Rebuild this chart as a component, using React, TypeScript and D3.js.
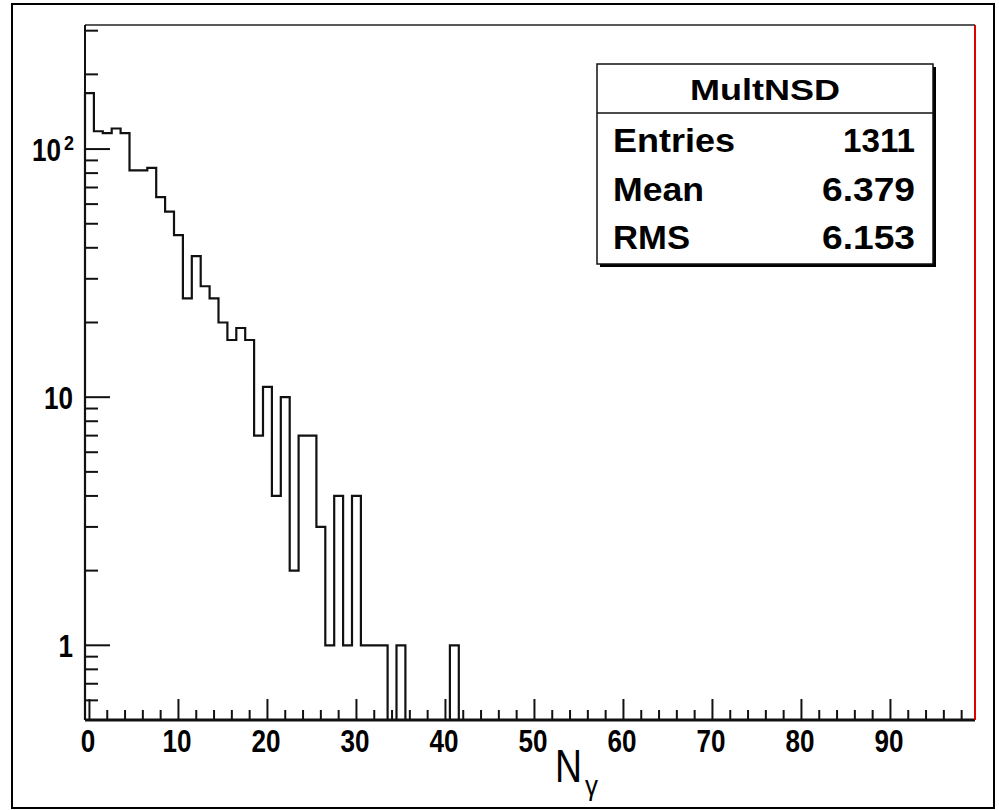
import React from "react";
import * as d3 from "d3";

// Histogram "MultNSD": photon multiplicity, one bin per integer N (bins 0..41 listed, higher bins empty)
const counts: number[] = [
  168, 118, 116, 121, 116, 82, 82, 84, 64, 56,
  45, 25, 37, 28, 25, 20, 17, 19, 17, 7,
  11, 4, 10, 2, 7, 7, 3, 1, 4, 1,
  4, 1, 1, 1, 0, 1, 0, 0, 0, 0,
  0, 1,
];
const nBins = 100;
const xMajorTicks: number[] = [0, 10, 20, 30, 40, 50, 60, 70, 80, 90];
const yMajorTicks: number[] = [1, 10, 100];
const yMajorLabels: string[] = ["1", "10", "10"];
const yMajorSup: string[] = ["", "", "2"];
const statsTitle = "MultNSD";
const statsNames: string[] = ["Entries", "Mean", "RMS"];
const statsValues: string[] = ["1311", "6.379", "6.153"];

const W = 999;
const H = 810;
const frame = { left: 85, right: 975, top: 25, bottom: 720 };
const yMin = 0.5;
const yMax = Math.pow(10, 2.5);

const FONT = "'Liberation Sans', Arial, Helvetica, sans-serif";

export default function App() {
  const x = d3.scaleLinear().domain([-0.5, nBins - 0.5]).range([frame.left, frame.right]);
  const y = d3.scaleLog().domain([yMin, yMax]).range([frame.bottom, frame.top]);

  // step outline of the histogram; empty bins sit on the lower edge of the log axis
  const pts: [number, number][] = [[x(-0.5), y(yMin)]];
  counts.forEach((c, i) => {
    const v = c > 0 ? c : yMin;
    pts.push([x(i - 0.5), y(v)]);
    pts.push([x(i + 0.5), y(v)]);
  });
  pts.push([x(counts.length - 0.5), y(yMin)]);
  pts.push([x(nBins - 0.5), y(yMin)]);
  const path = d3.line()(pts) || "";

  const xMinor = x.ticks(50).filter((t) => !xMajorTicks.includes(t));
  const yMinor = y
    .ticks()
    .filter((t) => t >= yMin && t <= yMax && !yMajorTicks.some((m) => Math.abs(m - t) < 1e-9));

  const digitW = 14.5;
  const box = { left: 597, right: 933, top: 64, bottom: 264, divider: 113 };
  const rowY: number[] = [152, 201, 249];

  return (
    <svg
      width={W}
      height={H}
      style={{ position: "absolute", left: 0, top: 0, background: "#fff" }}
      fontFamily={FONT}
    >
      <rect x={0} y={0} width={W} height={H} fill="#fff" />
      {/* canvas border */}
      <rect x={12} y={4} width={982} height={804} fill="none" stroke="#000" strokeWidth={2} />

      {/* frame top edge */}
      <line x1={frame.left} x2={frame.right} y1={frame.top} y2={frame.top} stroke="#222" strokeWidth={1.5} />

      {/* histogram */}
      <path d={path} fill="none" stroke="#111" strokeWidth={2.2} strokeLinejoin="miter" />

      {/* y axis */}
      <line x1={frame.left} x2={frame.left} y1={frame.top} y2={frame.bottom} stroke="#111" strokeWidth={2} />
      {yMajorTicks.map((t) => (
        <line key={"ym" + t} x1={frame.left} x2={frame.left + 25} y1={y(t)} y2={y(t)} stroke="#111" strokeWidth={2} />
      ))}
      {yMinor.map((t) => (
        <line key={"yn" + t} x1={frame.left} x2={frame.left + 13} y1={y(t)} y2={y(t)} stroke="#111" strokeWidth={2} />
      ))}
      {yMajorTicks.map((t, i) => {
        const lab = yMajorLabels[i];
        const sup = yMajorSup[i];
        const right = sup ? 61 : 73;
        return (
          <g key={"yl" + t} fontWeight="bold" fill="#000">
            <text
              x={right}
              y={y(t) + 12}
              fontSize={32}
              textAnchor="end"
              textLength={digitW * lab.length}
              lengthAdjust="spacingAndGlyphs"
            >
              {lab}
            </text>
            {sup && (
              <text x={64} y={y(t) + 1} fontSize={20} textLength={10} lengthAdjust="spacingAndGlyphs">
                {sup}
              </text>
            )}
          </g>
        );
      })}

      {/* x axis */}
      {xMinor.map((t) => (
        <line key={"xn" + t} x1={x(t)} x2={x(t)} y1={frame.bottom} y2={frame.bottom - 10} stroke="#111" strokeWidth={2} />
      ))}
      {xMajorTicks.map((t) => (
        <line key={"xm" + t} x1={x(t)} x2={x(t)} y1={frame.bottom} y2={frame.bottom - 21} stroke="#111" strokeWidth={2} />
      ))}
      <line x1={frame.left} x2={frame.right} y1={frame.bottom} y2={frame.bottom} stroke="#111" strokeWidth={3} />
      {xMajorTicks.map((t) => {
        const s = String(t);
        return (
          <text
            key={"xl" + t}
            x={x(t) - 1.5}
            y={752}
            fontSize={32}
            fontWeight="bold"
            textAnchor="middle"
            textLength={digitW * s.length}
            lengthAdjust="spacingAndGlyphs"
          >
            {s}
          </text>
        );
      })}

      {/* right frame edge */}
      <line x1={frame.right} x2={frame.right} y1={frame.top} y2={frame.bottom} stroke="#e00000" strokeWidth={2} />

      {/* x axis title */}
      <text x={555} y={782} fontSize={46} textLength={27} lengthAdjust="spacingAndGlyphs">
        N
      </text>
      <text x={585} y={795} fontSize={28} textLength={13} lengthAdjust="spacingAndGlyphs">
        γ
      </text>

      {/* statistics box */}
      <rect x={box.left + 3} y={box.top + 3} width={box.right - box.left} height={box.bottom - box.top} fill="#000" />
      <rect
        x={box.left}
        y={box.top}
        width={box.right - box.left}
        height={box.bottom - box.top}
        fill="#fff"
        stroke="#111"
        strokeWidth={1.5}
      />
      <line x1={box.left} x2={box.right} y1={box.divider} y2={box.divider} stroke="#111" strokeWidth={1.5} />
      <g fontWeight="bold" fill="#000">
        <text x={765} y={100} fontSize={30} textAnchor="middle" textLength={150} lengthAdjust="spacingAndGlyphs">
          {statsTitle}
        </text>
        {statsNames.map((n, i) => (
          <text
            key={n}
            x={613}
            y={rowY[i]}
            fontSize={33}
            textLength={[122, 91, 77][i]}
            lengthAdjust="spacingAndGlyphs"
          >
            {n}
          </text>
        ))}
        {statsValues.map((v, i) => (
          <text
            key={v}
            x={915}
            y={rowY[i]}
            fontSize={33}
            textAnchor="end"
            textLength={[72, 93, 93][i]}
            lengthAdjust="spacingAndGlyphs"
          >
            {v}
          </text>
        ))}
      </g>
    </svg>
  );
}
